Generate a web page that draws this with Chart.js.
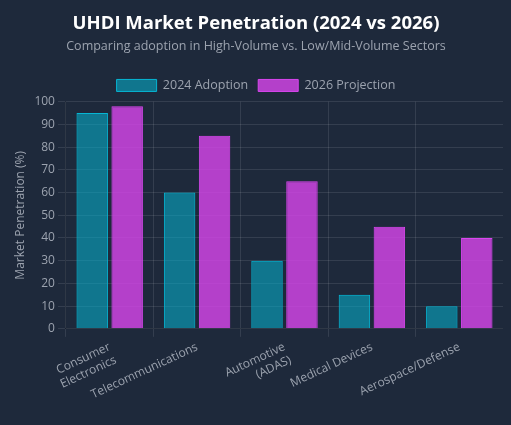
<!DOCTYPE html>
<html>
<head>
<meta charset="utf-8">
<script src="https://cdn.jsdelivr.net/npm/chart.js@4"></script>
<style>
  html, body { margin: 0; padding: 0; background: #1e293b; }
  #wrap { width: 511px; height: 425px; padding: 9px 8px 7px 9px; box-sizing: border-box; }
</style>
</head>
<body>
<div id="wrap"><canvas id="uhdiChart"></canvas></div>
<script>
const sectors = [["Consumer", "Electronics"], "Telecommunications", ["Automotive", "(ADAS)"], "Medical Devices", "Aerospace/Defense"];
const adoption2024 = [95, 60, 30, 15, 10];
const projection2026 = [98, 85, 65, 45, 40];
const yTicks = [0, 10, 20, 30, 40, 50, 60, 70, 80, 90, 100];

const fontFamily = "'Open Sans', 'Noto Sans', sans-serif";
Chart.defaults.font.family = fontFamily;
Chart.defaults.color = "#9ca3af";

const ctx = document.getElementById('uhdiChart').getContext('2d');
new Chart(ctx, {
    type: "bar",
    data: {
        labels: sectors,
        datasets: [
            {
                label: "2024 Adoption",
                data: adoption2024,
                backgroundColor: "rgba(6, 182, 212, 0.55)",
                borderColor: "#06b6d4",
                borderWidth: 1
            },
            {
                label: "2026 Projection",
                data: projection2026,
                backgroundColor: "rgba(217, 70, 239, 0.8)",
                borderColor: "#d946ef",
                borderWidth: 1
            }
        ]
    },
    options: {
        responsive: true,
        maintainAspectRatio: false,
        animation: false,
        plugins: {
            title: {
                display: true,
                text: "UHDI Market Penetration (2024 vs 2026)",
                color: "#ffffff",
                font: { size: 18.5, weight: "bold" },
                padding: { top: 4, bottom: 4 }
            },
            subtitle: {
                display: true,
                text: "Comparing adoption in High-Volume vs. Low/Mid-Volume Sectors",
                color: "#9ca3af",
                font: { size: 12.5 },
                padding: { bottom: 15 }
            },
            legend: {
                labels: {
                    color: "#9ca3af",
                    font: { size: 12.5 },
                    boxWidth: 40,
                    boxHeight: 12
                }
            }
        },
        scales: {
            x: {
                grid: { color: "rgba(255, 255, 255, 0.1)" },
                ticks: {
                    color: "#9ca3af",
                    font: { size: 12 },
                    maxRotation: 25,
                    minRotation: 25
                }
            },
            y: {
                min: 0,
                max: yTicks[yTicks.length - 1],
                grid: { color: "rgba(255, 255, 255, 0.1)" },
                ticks: {
                    color: "#9ca3af",
                    font: { size: 12 },
                    stepSize: 10
                },
                title: {
                    display: true,
                    text: "Market Penetration (%)",
                    color: "#9ca3af",
                    font: { size: 12 }
                }
            }
        }
    }
});
</script>
</body>
</html>
